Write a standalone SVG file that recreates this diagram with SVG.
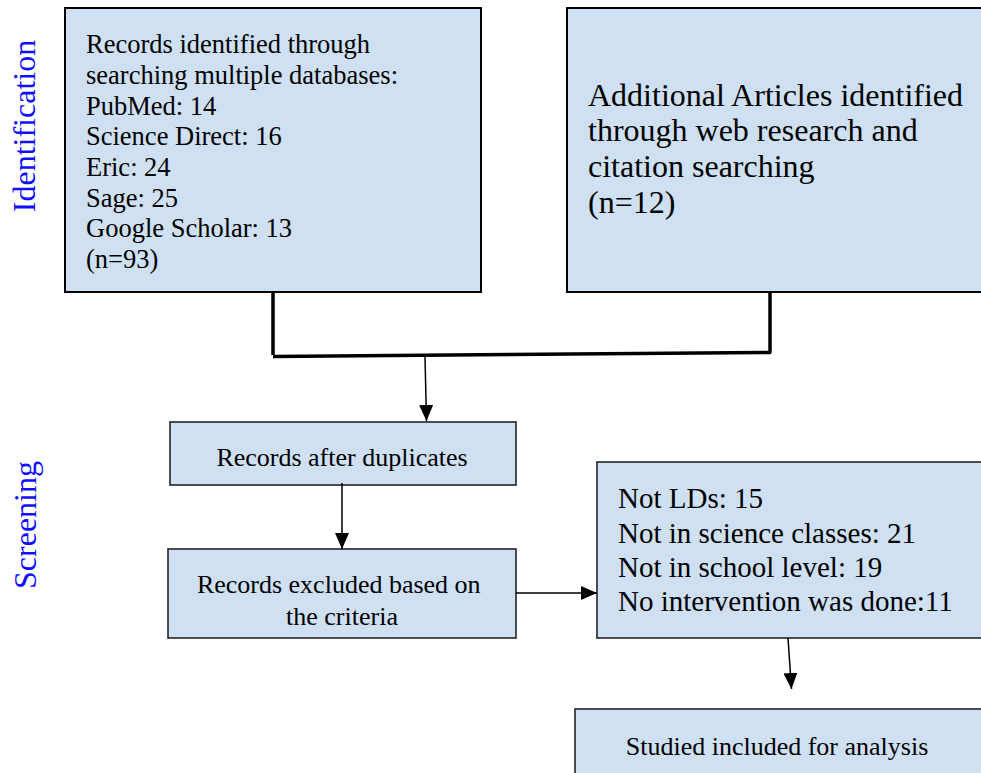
<svg xmlns="http://www.w3.org/2000/svg" width="981" height="773" viewBox="0 0 981 773">
<defs>
<style>
.box{fill:#cfe0f2;stroke:#000;stroke-width:2}
.sbox{fill:#cfe0f2;stroke:#222;stroke-width:1.6}
.t{font-family:"Liberation Serif","Times New Roman",serif;fill:#000}
.side{font-family:"Liberation Serif","Times New Roman",serif;fill:#1010ff;font-size:32px}
.thick{stroke:#000;stroke-width:3.5;fill:none}
.thin{stroke:#000;stroke-width:1.5;fill:none}
</style>
<marker id="ah" viewBox="0 0 16 14" refX="16" refY="7" markerWidth="16" markerHeight="14" markerUnits="userSpaceOnUse" orient="auto">
<path d="M0,0 L16,7 L0,14 Z" fill="#000"/>
</marker>
</defs>
<rect width="981" height="773" fill="#fff"/>
<text class="side" transform="translate(35,126) rotate(-90)" text-anchor="middle">Identification</text>
<text class="side" transform="translate(36,525) rotate(-90)" text-anchor="middle">Screening</text>

<g id="n1">
<rect class="box" x="65" y="8" width="416" height="284"/>
<text class="t" font-size="26.5">
<tspan x="86" y="53">Records identified through</tspan>
<tspan x="86" y="84">searching multiple databases:</tspan>
<tspan x="86" y="115">PubMed: 14</tspan>
<tspan x="86" y="145">Science Direct: 16</tspan>
<tspan x="86" y="176">Eric: 24</tspan>
<tspan x="86" y="207">Sage: 25</tspan>
<tspan x="86" y="237">Google Scholar: 13</tspan>
<tspan x="86" y="268">(n=93)</tspan>
</text>
</g>
<g id="n2">
<rect class="box" x="567" y="8" width="420" height="284"/>
<text class="t" font-size="32">
<tspan x="588" y="106">Additional Articles identified</tspan>
<tspan x="588" y="141">through web research and</tspan>
<tspan x="588" y="177">citation searching</tspan>
<tspan x="588" y="213">(n=12)</tspan>
</text>
</g>
<g id="n3">
<rect class="sbox" x="170" y="422" width="346" height="63"/>
<text class="t" font-size="26" x="342" y="466" text-anchor="middle">Records after duplicates</text>
</g>
<g id="n4">
<rect class="sbox" x="168" y="549" width="348" height="89"/>
<text class="t" font-size="26" text-anchor="middle">
<tspan x="342" y="593">Records excluded based on</tspan>
<tspan x="342" y="625">the criteria</tspan>
</text>
</g>
<g id="n5">
<rect class="sbox" x="597" y="462" width="386" height="176"/>
<text class="t" font-size="29">
<tspan x="618" y="508">Not LDs: 15</tspan>
<tspan x="618" y="543">Not in science classes: 21</tspan>
<tspan x="618" y="577">Not in school level: 19</tspan>
<tspan x="618" y="611">No intervention was done:11</tspan>
</text>
</g>
<g id="n6">
<rect class="sbox" x="575" y="709" width="410" height="70"/>
<text class="t" font-size="26" x="777" y="755" text-anchor="middle">Studied included for analysis</text>
</g>

<g id="connectors">
<path class="thick" d="M273,292 V355"/>
<path class="thick" d="M770,292 V353"/>
<path class="thick" d="M273,356.5 L771,352.5"/>
<path class="thin" d="M425,357 L426.5,421" marker-end="url(#ah)"/>
<path class="thin" d="M342,483 V549" marker-end="url(#ah)"/>
<path class="thin" d="M516,593 H597" marker-end="url(#ah)"/>
<path class="thin" d="M788,638 L791.5,689" marker-end="url(#ah)"/>
</g>
</svg>
